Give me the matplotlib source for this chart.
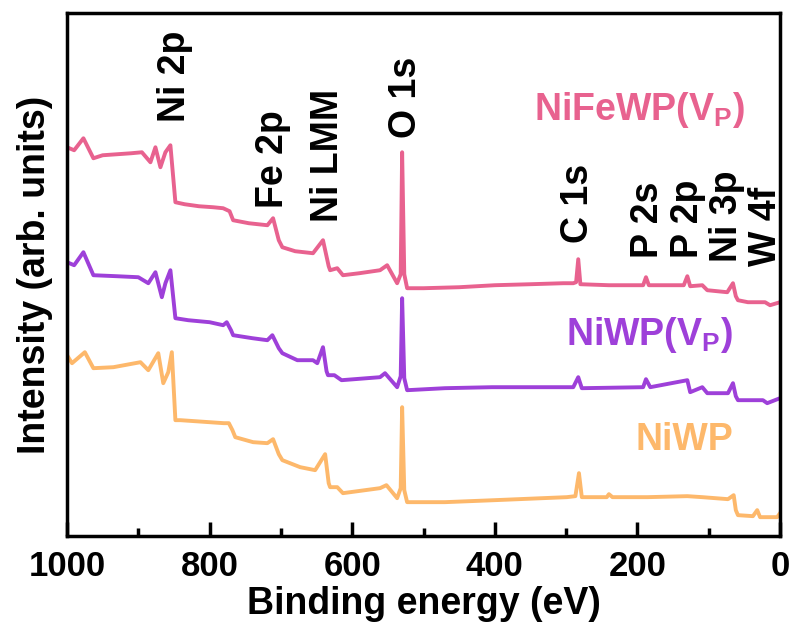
import matplotlib.pyplot as plt

plt.rcParams['font.family'] = ['Liberation Sans', 'DejaVu Sans']
plt.rcParams['font.weight'] = 'bold'

# binding energy (eV) and intensity (arb. units)
e_nifewp = [1000, 990, 977, 963, 950, 930, 910, 895, 883, 876, 869, 862, 855, 848, 835, 815, 795, 781,
            772, 767, 745, 719, 711, 703, 698, 680, 655, 641, 633, 631, 621, 613, 590, 561, 551, 537, 532,
            530, 527, 523, 500, 450, 400, 350, 304, 290, 286, 283, 280, 240, 192, 188, 184, 135, 130,
            126, 109, 102, 74, 66, 62, 59, 45, 21, 14, 0]
i_nifewp = [389, 386, 398, 378, 381, 382, 383, 384, 374, 389, 369, 384, 391, 334, 332, 330, 329, 328,
            325, 316, 313, 311, 318, 296, 289, 285, 283, 296, 270, 266, 268, 261, 263, 266, 271, 253, 262,
            384, 262, 248, 248, 249, 251, 252, 253, 253, 254, 277, 252, 251, 251, 259, 251, 251, 260,
            250, 251, 246, 244, 253, 240, 236, 234, 234, 231, 234]

e_niwp_vp = [1000, 990, 977, 963, 930, 900, 886, 876, 867, 862, 855, 848, 830, 800, 781, 776, 770, 767,
             740, 719, 712, 703, 698, 677, 655, 649, 641, 636, 634, 625, 615, 561, 554, 537, 532, 530,
             527, 523, 470, 404, 290, 283, 278, 192, 188, 182, 130, 126, 109, 102, 73, 66, 62, 59, 24,
             18, 0]
i_niwp_vp = [274, 271, 284, 261, 260, 259, 253, 264, 239, 253, 266, 218, 216, 214, 211, 214, 206, 201,
             198, 196, 201, 188, 183, 176, 176, 173, 189, 165, 161, 161, 156, 159, 163, 149, 160, 238,
             158, 146, 148, 149, 149, 159, 148, 149, 157, 149, 156, 144, 149, 143, 143, 153, 140, 136,
             136, 133, 138]

e_niwp = [1000, 993, 975, 963, 935, 897, 886, 872, 865, 858, 853, 848, 841, 780, 773, 768, 764, 739,
          719, 711, 703, 698, 673, 652, 638, 633, 631, 621, 613, 561, 552, 537, 532, 530, 527, 523, 470,
          400, 299, 287, 282, 278, 243, 240, 235, 186, 130, 109, 73, 65, 62, 59, 38, 32, 28, 4, 0]
i_niwp = [181, 173, 184, 168, 169, 174, 166, 183, 153, 164, 184, 116, 116, 113, 113, 106, 99, 94,
          93, 97, 82, 76, 69, 66, 82, 53, 49, 49, 43, 48, 51, 38, 48, 129, 46, 34, 34,
          36, 39, 40, 63, 39, 39, 42, 39, 39, 40, 39, 37, 41, 26, 21, 20, 26, 19, 19, 23]

peak_names = ["Ni 2p", "Fe 2p", "Ni LMM", "O 1s", "C 1s", "P 2s", "P 2p", "Ni 3p", "W 4f"]
peak_energy = [848, 711, 634, 525, 283, 185, 129, 74, 20]
peak_label_y = [414, 328, 314, 398, 293, 278, 278, 274, 270]

c_pink = "#E8628F"
c_purple = "#9E40D9"
c_orange = "#FDB86B"

fig = plt.figure(figsize=(7.94, 6.33), dpi=100)
ax = fig.add_axes([0.0844, 0.153, 0.898, 0.826])

ax.plot(e_nifewp, i_nifewp, color=c_pink, lw=2.8)
ax.plot(e_niwp_vp, i_niwp_vp, color=c_purple, lw=2.8)
ax.plot(e_niwp, i_niwp, color=c_orange, lw=2.8)

for name, e, y in zip(peak_names, peak_energy, peak_label_y):
    ax.text(e, y, name, rotation=90, ha="center", va="bottom", fontsize=27, fontweight="bold")

ax.text(49, 426, r"NiFeWP(V$_\mathregular{P}$)", color=c_pink, ha="right", va="center",
        fontsize=27, fontweight="bold")
ax.text(66, 201, r"NiWP(V$_\mathregular{P}$)", color=c_purple, ha="right", va="center",
        fontsize=27, fontweight="bold")
ax.text(66, 96, "NiWP", color=c_orange, ha="right", va="center", fontsize=27, fontweight="bold")

ax.set_xlim(1000, 0)
ax.set_ylim(0, 523)
ax.set_yticks([])
ax.set_xticks([1000, 800, 600, 400, 200, 0])
ax.set_xticks([900, 700, 500, 300, 100], minor=True)
ax.tick_params(axis="x", which="major", direction="in", length=10, width=2.5, pad=10, labelsize=25)
ax.tick_params(axis="x", which="minor", direction="in", length=6, width=2.5)
for s in ax.spines.values():
    s.set_linewidth(2.5)

ax.set_xlabel("Binding energy (eV)", fontsize=27, fontweight="bold", labelpad=2)
ax.set_ylabel("Intensity (arb. units)", fontsize=27, fontweight="bold", labelpad=10)

fig.savefig("out.png", dpi=100)
